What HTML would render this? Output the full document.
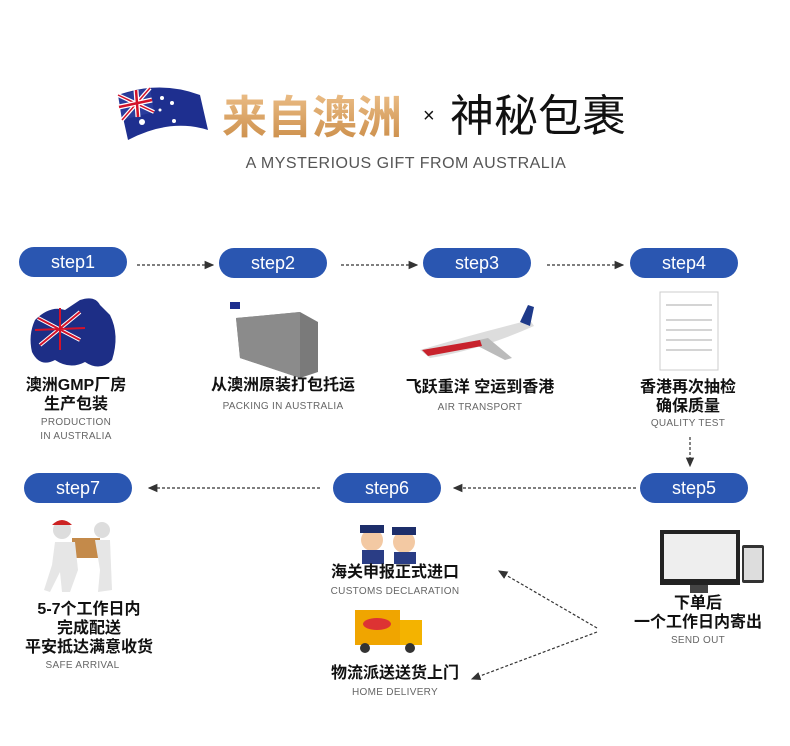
<!DOCTYPE html>
<html><head><meta charset="utf-8"><style>
body{margin:0;width:790px;height:746px;background:#fff;position:relative;overflow:hidden;font-family:"Liberation Sans","Noto Sans CJK SC",sans-serif}
.a{position:absolute}
.pill{position:absolute;width:108px;height:30px;border-radius:15px;background:#2a56b1;color:#fff;font-size:18px;text-align:center;line-height:30px}
.t{position:absolute;text-align:center;font-weight:bold;font-size:16px;color:#111;line-height:19px;white-space:nowrap}
.s{position:absolute;text-align:center;font-size:10px;color:#666;line-height:14px;white-space:nowrap;letter-spacing:.3px}
</style></head><body>
<svg class="a" style="left:0;top:0" width="790" height="746">
<defs><marker id="m" markerWidth="8" markerHeight="8" refX="7" refY="4" orient="auto"><path d="M0,0.5 L8,4 L0,7.5 Z" fill="#333"/></marker>
<linearGradient id="g" x1="0" y1="0" x2="0" y2="1"><stop offset="0" stop-color="#f2c894"/><stop offset="1" stop-color="#c98a45"/></linearGradient></defs>
<g stroke="#333" stroke-width="1.2" stroke-dasharray="3,2" fill="none">
<line x1="137" y1="265" x2="213" y2="265" marker-end="url(#m)"/>
<line x1="341" y1="265" x2="417" y2="265" marker-end="url(#m)"/>
<line x1="547" y1="265" x2="623" y2="265" marker-end="url(#m)"/>
<line x1="690" y1="437" x2="690" y2="466" marker-end="url(#m)"/>
<line x1="636" y1="488" x2="454" y2="488" marker-end="url(#m)"/>
<line x1="320" y1="488" x2="149" y2="488" marker-end="url(#m)"/>
<line x1="597" y1="628" x2="499" y2="571" marker-end="url(#m)"/>
<line x1="597" y1="632" x2="472" y2="679" marker-end="url(#m)"/>
</g>
<path d="M118,95 Q160,80 200,95 L208,130 Q170,118 128,140 Z" fill="#1e2f8f"/>
<path d="M118,95 L150,88 L154,112 L122,120 Z" fill="#2a3c9c"/>
<path d="M118,95 L154,112 M150,88 L122,120" stroke="#fff" stroke-width="4"/>
<path d="M118,95 L154,112 M150,88 L122,120" stroke="#d3122a" stroke-width="1.5"/>
<path d="M136,90 L138,117 M119,107 L152,100" stroke="#fff" stroke-width="5"/>
<path d="M136,90 L138,117 M119,107 L152,100" stroke="#d3122a" stroke-width="2.5"/>
<g fill="#fff"><circle cx="162" cy="98" r="2"/><circle cx="172" cy="103" r="2"/><circle cx="160" cy="110" r="1.5"/><circle cx="174" cy="121" r="2"/><circle cx="142" cy="122" r="3"/></g>
<text x="222" y="133" font-size="45" font-weight="bold" fill="url(#g)" font-family="Noto Sans CJK SC,sans-serif">来自澳洲</text>
<text x="423" y="122" font-size="20" fill="#111">×</text>
<text x="450" y="131" font-size="44" fill="#111" font-family="Noto Sans CJK SC,sans-serif">神秘包裹</text>
<path d="M35,320 Q50,305 65,310 L80,300 Q95,295 100,305 L110,315 Q120,335 112,360 Q100,372 85,362 Q70,370 55,360 Q40,368 32,352 Q28,335 35,320Z" fill="#1d2e86"/>
<path d="M38,318 L80,340 M80,312 L40,345" stroke="#fff" stroke-width="4"/>
<path d="M38,318 L80,340 M80,312 L40,345 M60,308 L60,350 M35,330 L85,328" stroke="#d3122a" stroke-width="2"/>
<rect x="230" y="302" width="10" height="7" fill="#1e2f8f"/>
<path d="M236,318 L300,312 L318,322 L318,372 L300,378 L240,358 Z" fill="#7a7a7a"/>
<path d="M236,318 L300,312 L300,378 L240,358 Z" fill="#8b8b8b"/>
<path d="M420,350 Q470,335 530,320 L534,326 Q480,350 430,358 Z" fill="#ddd"/>
<path d="M470,342 L505,360 L512,358 L488,338 Z" fill="#bbb"/>
<path d="M520,322 L528,305 L534,307 L530,326 Z" fill="#1e3a8a"/>
<path d="M422,350 L480,340 L482,346 L428,356Z" fill="#c8222c"/>
<rect x="660" y="292" width="58" height="78" fill="#fff" stroke="#ccc"/>
<g stroke="#aaa"><line x1="666" y1="305" x2="712" y2="305"/><line x1="666" y1="320" x2="712" y2="320"/><line x1="666" y1="330" x2="712" y2="330"/><line x1="666" y1="340" x2="712" y2="340"/><line x1="666" y1="350" x2="712" y2="350"/></g>
<circle cx="62" cy="530" r="9" fill="#ddd"/><path d="M52,525 Q62,515 72,525Z" fill="#c22"/>
<rect x="72" y="538" width="28" height="20" fill="#c48a4a"/>
<path d="M55,542 L75,542 L78,570 L70,592 L62,592 L60,572 L50,592 L44,590 L52,565Z" fill="#e6e6e6"/>
<circle cx="102" cy="530" r="8" fill="#ddd"/><path d="M95,540 L110,540 L112,590 L98,592 L100,570Z" fill="#e6e6e6"/>
<circle cx="372" cy="540" r="11" fill="#f3c9a3"/><rect x="360" y="525" width="24" height="8" fill="#1d2e6a"/><rect x="362" y="550" width="22" height="14" fill="#2a3d85"/>
<circle cx="404" cy="542" r="11" fill="#f3c9a3"/><rect x="392" y="527" width="24" height="8" fill="#1d2e6a"/><rect x="394" y="552" width="22" height="12" fill="#2a3d85"/>
<rect x="355" y="610" width="45" height="35" fill="#f0a500"/><rect x="400" y="620" width="22" height="25" fill="#f4b300"/>
<ellipse cx="377" cy="624" rx="14" ry="6" fill="#d33"/>
<circle cx="365" cy="648" r="5" fill="#333"/><circle cx="410" cy="648" r="5" fill="#333"/>
<rect x="660" y="530" width="80" height="55" fill="#222"/><rect x="664" y="534" width="72" height="45" fill="#eee"/>
<rect x="690" y="585" width="18" height="8" fill="#444"/><rect x="742" y="545" width="22" height="38" rx="2" fill="#333"/><rect x="744" y="548" width="18" height="32" fill="#ddd"/>
</svg>
<div class="a" style="left:0;width:790px;top:155px;text-align:center;font-size:16px;color:#555;letter-spacing:.5px;padding-left:22px;box-sizing:border-box">A MYSTERIOUS GIFT FROM AUSTRALIA</div>
<div class="pill" style="left:19px;top:247px">step1</div>
<div class="pill" style="left:219px;top:248px">step2</div>
<div class="pill" style="left:423px;top:248px">step3</div>
<div class="pill" style="left:630px;top:248px">step4</div>
<div class="pill" style="left:24px;top:473px">step7</div>
<div class="pill" style="left:333px;top:473px">step6</div>
<div class="pill" style="left:640px;top:473px">step5</div>
<div class="t" style="left:0;width:152px;top:376px">澳洲GMP厂房<br>生产包装</div>
<div class="s" style="left:0;width:152px;top:416px">PRODUCTION<br>IN AUSTRALIA</div>
<div class="t" style="left:183px;width:200px;top:376px">从澳洲原装打包托运</div>
<div class="s" style="left:183px;width:200px;top:400px">PACKING IN AUSTRALIA</div>
<div class="t" style="left:380px;width:200px;top:378px">飞跃重洋 空运到香港</div>
<div class="s" style="left:380px;width:200px;top:401px">AIR TRANSPORT</div>
<div class="t" style="left:588px;width:200px;top:378px">香港再次抽检<br>确保质量</div>
<div class="s" style="left:588px;width:200px;top:417px">QUALITY TEST</div>
<div class="t" style="left:0;width:178px;top:600px">5-7个工作日内<br>完成配送<br>平安抵达满意收货</div>
<div class="s" style="left:0;width:165px;top:659px">SAFE ARRIVAL</div>
<div class="t" style="left:295px;width:200px;top:563px">海关申报正式进口</div>
<div class="s" style="left:295px;width:200px;top:585px">CUSTOMS DECLARATION</div>
<div class="t" style="left:295px;width:200px;top:664px">物流派送送货上门</div>
<div class="s" style="left:295px;width:200px;top:686px">HOME DELIVERY</div>
<div class="t" style="left:598px;width:200px;top:594px">下单后<br>一个工作日内寄出</div>
<div class="s" style="left:598px;width:200px;top:634px">SEND OUT</div>
</body></html>
